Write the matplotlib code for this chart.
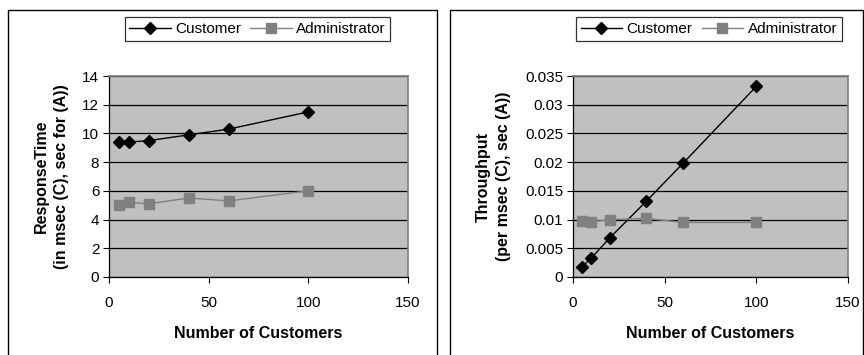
import matplotlib
matplotlib.use("Agg")
import matplotlib.pyplot as plt
from matplotlib.patches import Rectangle

plt.rcParams['font.family'] = ['Liberation Sans', 'DejaVu Sans']

customers = [5, 10, 20, 40, 60, 100]
resp_customer = [9.4, 9.4, 9.5, 9.9, 10.3, 11.5]
resp_admin = [5.0, 5.2, 5.1, 5.5, 5.3, 6.0]
thr_customer = [0.0018, 0.0033, 0.0068, 0.0132, 0.0198, 0.0332]
thr_admin = [0.0098, 0.0096, 0.0100, 0.0102, 0.0095, 0.0095]

resp_ticks = [0, 2, 4, 6, 8, 10, 12, 14]
thr_ticks = [0, 0.005, 0.01, 0.015, 0.02, 0.025, 0.03, 0.035]
thr_labels = ['0', '0.005', '0.01', '0.015', '0.02', '0.025', '0.03', '0.035']
x_ticks = [0, 50, 100, 150]

W, H = 864, 355
fig = plt.figure(figsize=(W / 100, H / 100), dpi=100)

def fx(px):
    return px / W

def fy(py):
    return 1 - py / H

# panel boxes
for x0, x1 in [(8, 437), (450, 863)]:
    fig.patches.append(Rectangle((fx(x0), fy(400)), fx(x1) - fx(x0), fy(10) - fy(400),
                                 transform=fig.transFigure, fill=False,
                                 edgecolor='black', linewidth=1.0))

def make(ax_rect, cust, admin, yticks, ylabels, ylim, ylabel, leg_rect, ylab_x):
    x0, y0, x1, y1 = ax_rect
    ax = fig.add_axes([fx(x0), fy(y1), fx(x1) - fx(x0), fy(y0) - fy(y1)])
    ax.set_facecolor('#c0c0c0')
    ax.plot(customers, cust, color='black', marker='D', markersize=6, linewidth=1.0,
            label='Customer', zorder=3)
    ax.plot(customers, admin, color='#808080', marker='s', markersize=7, linewidth=1.0,
            label='Administrator', zorder=3)
    ax.set_xlim(0, 150)
    ax.set_ylim(*ylim)
    ax.set_xticks(x_ticks)
    ax.set_yticks(yticks)
    ax.set_yticklabels(ylabels)
    ax.yaxis.grid(True, color='black', linewidth=0.9)
    ax.set_axisbelow(True)
    for s in ['top', 'right']:
        ax.spines[s].set_color('#808080')
        ax.spines[s].set_linewidth(1.2)
    for s in ['left', 'bottom']:
        ax.spines[s].set_color('black')
        ax.spines[s].set_linewidth(0.9)
    ax.tick_params(axis='y', direction='out', length=4, width=0.8, labelsize=11, pad=3)
    ax.tick_params(axis='x', direction='out', length=4, width=0.8, labelsize=11, pad=10)
    ax.set_xlabel('Number of Customers', fontsize=11.5, fontweight='bold', labelpad=11)
    ax.set_ylabel(ylabel, fontsize=11.5, fontweight='bold', linespacing=1.45)
    ax.yaxis.set_label_coords(fx(ylab_x), 0.5 * (fy(y0) + fy(y1)), transform=fig.transFigure)
    lx0, ly0, lx1, ly1 = leg_rect
    ax.legend(loc='center', bbox_to_anchor=(fx(lx0), fy(ly1), fx(lx1) - fx(lx0), fy(ly0) - fy(ly1)),
              bbox_transform=fig.transFigure, ncol=2, frameon=True, fancybox=False,
              edgecolor='black', fontsize=11, handlelength=2.7, columnspacing=0.6,
              handletextpad=0.3, borderpad=0.3)
    leg = ax.get_legend()
    leg.get_frame().set_linewidth(0.9)
    return ax

make((109, 76, 408, 277), resp_customer, resp_admin, resp_ticks,
     [str(t) for t in resp_ticks], (0, 14),
     'ResponseTime\n(in msec (C), sec for (A))', (123, 14, 392, 44), 69)
make((573, 76, 848, 277), thr_customer, thr_admin, thr_ticks, thr_labels, (0, 0.035),
     'Throughput\n(per msec (C), sec (A))', (575, 14, 843, 44), 511)

fig.savefig('out.png', dpi=100)
